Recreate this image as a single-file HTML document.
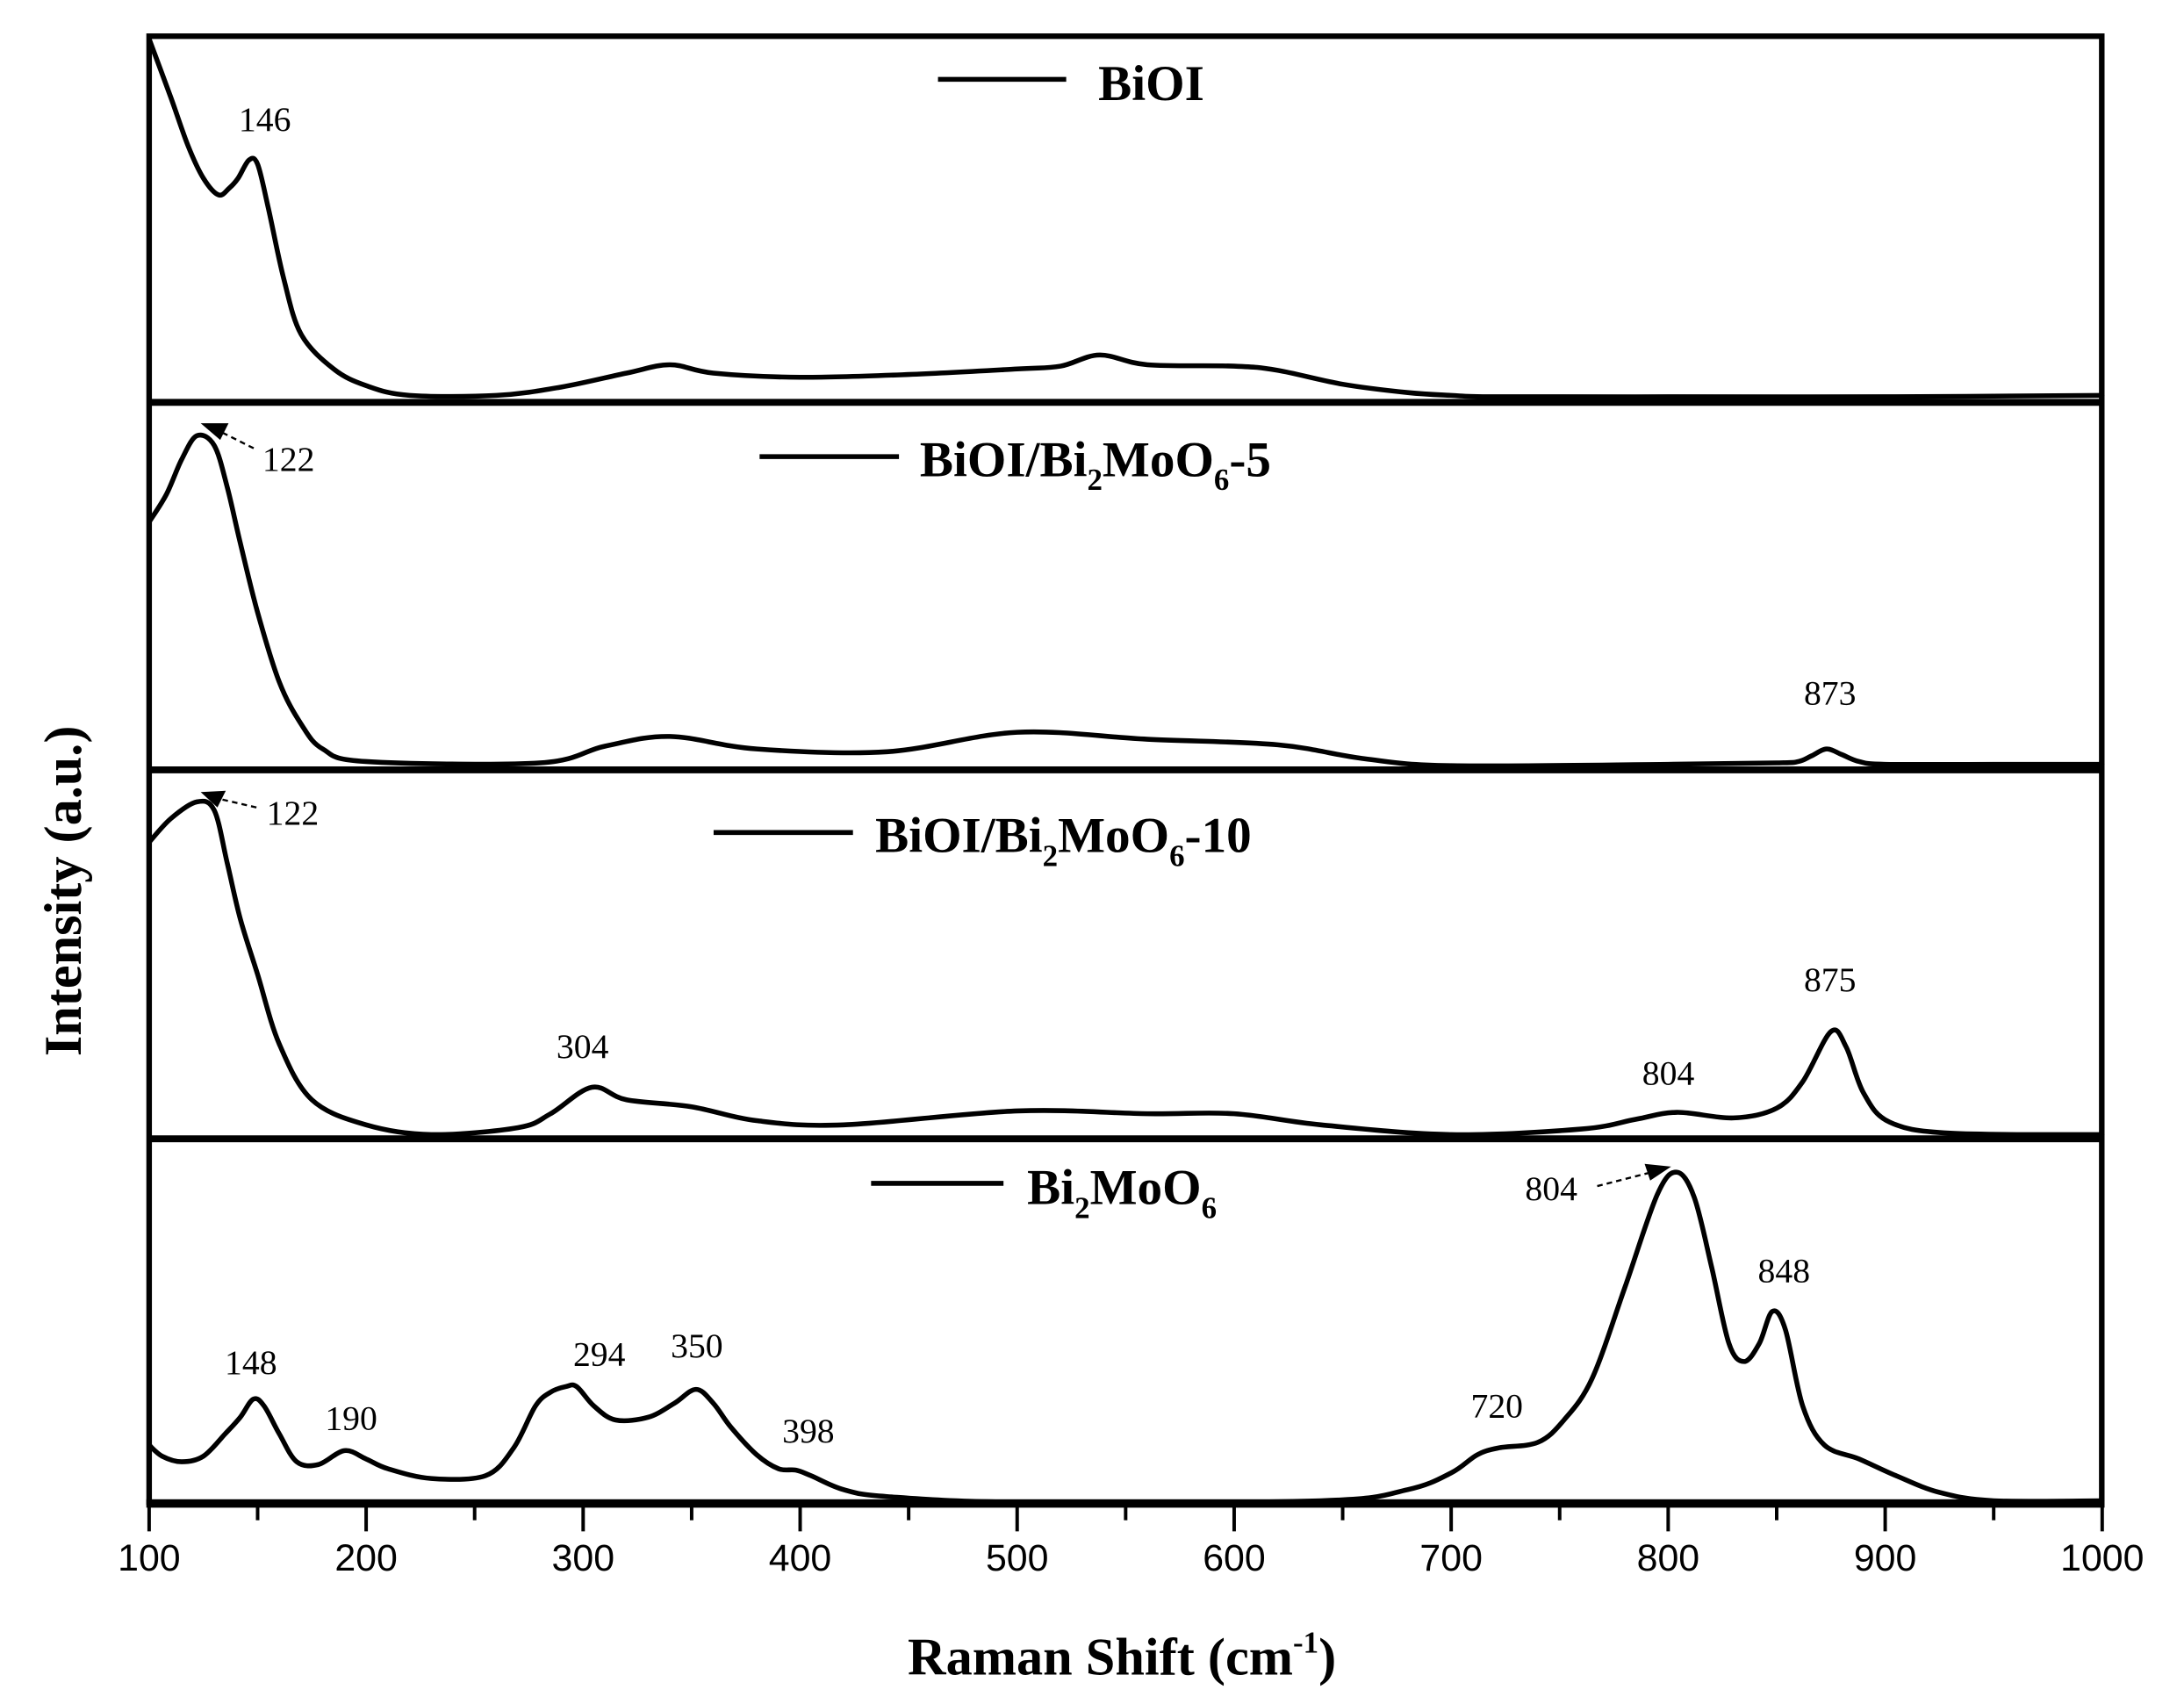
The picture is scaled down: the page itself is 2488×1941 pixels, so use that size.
<!DOCTYPE html>
<html><head><meta charset="utf-8"><style>
html,body{margin:0;padding:0;background:#fff;}
svg{display:block;}
</style></head><body>
<svg width="2488" height="1941" viewBox="0 0 1567 1224" preserveAspectRatio="none" xmlns="http://www.w3.org/2000/svg">
<rect width="1567" height="1224" fill="#fff"/>
<g id="curves" fill="none" stroke="#000" stroke-width="3.5" stroke-linejoin="round" stroke-linecap="round"></g>
<g stroke="#000" fill="none">
<rect x="107" y="26" width="1401" height="1053" stroke-width="4"/>
<line x1="107" y1="289" x2="1508" y2="289" stroke-width="5"/>
<line x1="107" y1="553" x2="1508" y2="553" stroke-width="5"/>
<line x1="107" y1="818" x2="1508" y2="818" stroke-width="5"/>
<line x1="105" y1="1080" x2="1510" y2="1080" stroke-width="6"/>
</g>
<g id="ticks" stroke="#000" stroke-width="2.5"></g>
<g font-family="Liberation Sans, sans-serif" font-size="27" text-anchor="middle" id="tl"></g>
<g stroke="#000" stroke-width="3.5">
<line x1="673" y1="57" x2="765" y2="57"/>
<line x1="545" y1="328" x2="645" y2="328"/>
<line x1="512" y1="598" x2="612" y2="598"/>
<line x1="625" y1="850" x2="720" y2="850"/>
</g>
<g font-family="Liberation Serif, serif" font-weight="bold" font-size="36">
<text x="788" y="72">BiOI</text>
<text x="660" y="342">BiOI/Bi<tspan font-size="22" dy="10">2</tspan><tspan dy="-10">MoO</tspan><tspan font-size="22" dy="10">6</tspan><tspan dy="-10">-5</tspan></text>
<text x="628" y="612">BiOI/Bi<tspan font-size="22" dy="10">2</tspan><tspan dy="-10">MoO</tspan><tspan font-size="22" dy="10">6</tspan><tspan dy="-10">-10</tspan></text>
<text x="737" y="865">Bi<tspan font-size="22" dy="10">2</tspan><tspan dy="-10">MoO</tspan><tspan font-size="22" dy="10">6</tspan></text>
<text x="805" y="1203" text-anchor="middle" font-size="38">Raman Shift (cm<tspan font-size="22" dy="-16">-1</tspan><tspan dy="16">)</tspan></text>
<text transform="translate(58,640) rotate(-90)" text-anchor="middle" font-size="38">Intensity (a.u.)</text>
</g>
<g font-family="Liberation Serif, serif" font-size="25" text-anchor="middle">
<text x="190" y="94">146</text>
<text x="207" y="338">122</text>
<text x="210" y="592">122</text>
<text x="1313" y="506">873</text>
<text x="1313" y="712">875</text>
<text x="418" y="760">304</text>
<text x="1197" y="779">804</text>
<text x="1113" y="862">804</text>
<text x="1280" y="921">848</text>
<text x="180" y="987">148</text>
<text x="252" y="1027">190</text>
<text x="430" y="981">294</text>
<text x="500" y="975">350</text>
<text x="580" y="1036">398</text>
<text x="1074" y="1018">720</text>
</g>
<g stroke="#000" stroke-width="1.5" stroke-dasharray="4,3">
<line x1="182" y1="322" x2="158" y2="310"/>
<line x1="184" y1="580" x2="158" y2="574"/>
<line x1="1146" y1="852" x2="1185" y2="842"/>
</g>
<g fill="#000">
<polygon points="144,304 164,304 158,316"/>
<polygon points="144,569 162,568 156,580"/>
<polygon points="1199,838 1180,836 1184,848"/>
</g>
<script>
var X=function(v){return 107+(v-100)*1.557;};
var S=[
[[100,28],[110,70],[118,105],[125,128],[132,140],[137,135],[141,128],[146,115],[150,118],[155,150],[162,200],[170,240],[185,265],[200,277],[220,284],[260,284],[290,278],[320,268],[340,262],[360,268],[400,271],[450,269],[500,265],[520,263],[538,255],[560,262],[600,263],[620,266],[650,276],[680,282],[700,284],[720,285],[800,285],[900,285],[1000,284]],
[[100,375],[108,355],[115,330],[122,313],[130,320],[136,350],[142,390],[150,440],[160,490],[170,520],[180,538],[200,547],[280,548],[310,536],[340,529],[380,538],[440,540],[500,526],[560,531],[620,535],[660,545],[700,550],[800,549],[850,548],[860,547],[866,543],[873,538],[880,542],[888,547],[900,549],[950,549],[1000,549]],
[[100,605],[110,588],[122,576],[130,582],[136,620],[142,660],[150,700],[160,750],[175,790],[200,808],[230,815],[270,810],[285,800],[304,781],[320,790],[350,795],[380,805],[420,808],[500,798],[560,800],[600,800],[640,808],[700,815],[760,811],[785,804],[804,799],[830,803],[850,796],[862,777],[875,741],[882,752],[890,785],[902,806],[930,814],[1000,815]],
[[100,1038],[106,1046],[115,1050],[125,1046],[135,1030],[142,1018],[148,1005],[153,1010],[160,1030],[168,1050],[178,1052],[190,1042],[200,1048],[210,1055],[230,1062],[255,1060],[268,1040],[278,1010],[285,1000],[292,996],[297,996],[305,1010],[315,1020],[330,1018],[342,1008],[352,998],[360,1008],[368,1025],[380,1045],[390,1055],[398,1056],[405,1060],[420,1070],[440,1075],[500,1079],[640,1078],[680,1070],[700,1058],[712,1045],[722,1040],[740,1036],[752,1020],[765,990],[780,925],[795,858],[804,842],[812,860],[820,910],[828,965],[835,978],[842,965],[848,942],[854,955],[862,1010],[872,1038],[888,1048],[905,1060],[925,1072],[950,1078],[1000,1078]]
];
var g=document.getElementById('curves');
S.forEach(function(s){
  var P=s.map(function(q){return [X(q[0]),q[1]];});
  var d='M'+P[0][0]+','+P[0][1];
  for(var i=0;P.length-1>i;i++){
    var p0=P[i-1]||P[i],p1=P[i],p2=P[i+1],p3=P[i+2]||P[i+1];
    var c1x=p1[0]+(p2[0]-p0[0])/6,c1y=p1[1]+(p2[1]-p0[1])/6;
    var c2x=p2[0]-(p3[0]-p1[0])/6,c2y=p2[1]-(p3[1]-p1[1])/6;
    d+=' C'+c1x+','+c1y+' '+c2x+','+c2y+' '+p2[0]+','+p2[1];
  }
  var el=document.createElementNS('http://www.w3.org/2000/svg','path');el.setAttribute('d',d);g.appendChild(el);});
var t=document.getElementById('ticks'),tl=document.getElementById('tl');
for(var v=100;1000>=v;v+=50){var l=document.createElementNS('http://www.w3.org/2000/svg','line');var x=X(v);l.setAttribute('x1',x);l.setAttribute('x2',x);l.setAttribute('y1',1080);l.setAttribute('y2',v%100==0?1100:1092);t.appendChild(l);
if(v%100==0){var tx=document.createElementNS('http://www.w3.org/2000/svg','text');tx.setAttribute('x',x);tx.setAttribute('y',1128);tx.textContent=v;tl.appendChild(tx);}}
</script>
</svg>
</body></html>
